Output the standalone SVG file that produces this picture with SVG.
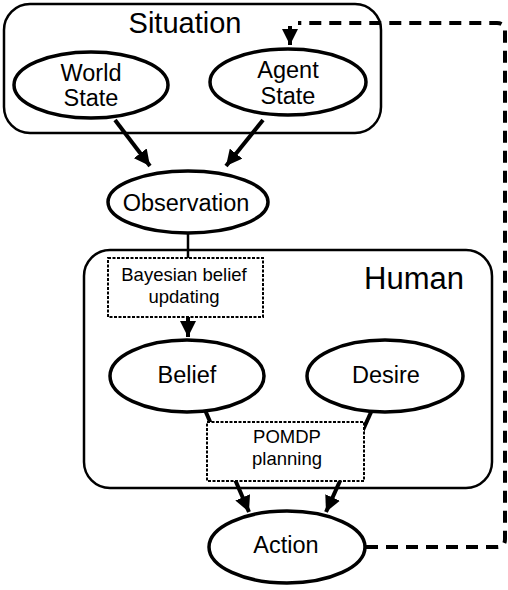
<svg xmlns="http://www.w3.org/2000/svg" width="508" height="590" viewBox="0 0 508 590">
<style>
.box{fill:none;stroke:#000;stroke-width:2.5}
.ell{fill:#fff;stroke:#000;stroke-width:3.5}
.dot{fill:#fff;stroke:#000;stroke-width:2;stroke-dasharray:3 1.5}
.t{font-family:"Liberation Sans",Arial,sans-serif;fill:#000;text-anchor:middle}
.n{font-size:23.5px}
.s{font-size:18.5px}
.edge{fill:none;stroke:#000;stroke-width:4}
.thin{fill:none;stroke:#000;stroke-width:2.5}
.dash{fill:none;stroke:#000;stroke-width:4;stroke-dasharray:12 8}
</style>
<defs>
<marker id="ah" viewBox="0 0 10 10" refX="10" refY="5" markerWidth="4" markerHeight="4" orient="auto" markerUnits="strokeWidth">
<path d="M0,0 L10,5 L0,10 z" fill="#000"/>
</marker>
</defs>
<g id="situation">
<rect class="box" x="4" y="4" width="377" height="129" rx="26"/>
<text class="t" x="185" y="33" font-size="29">Situation</text>
</g>
<g id="human">
<rect class="box" x="84" y="250" width="408" height="238" rx="26"/>
<text class="t" x="414" y="289" font-size="31">Human</text>
</g>
<g id="connectors">
<path class="edge" d="M115,120 L150,166" marker-end="url(#ah)"/>
<path class="edge" d="M263,120 L226,166" marker-end="url(#ah)"/>
<path class="thin" d="M188,233 V258"/>
<path class="edge" d="M188,317 V337" marker-end="url(#ah)"/>
<path class="edge" d="M205,410 L249,512" marker-end="url(#ah)"/>
<path class="edge" d="M372,410 L326,512" marker-end="url(#ah)"/>
<path class="dash" d="M366,547 H497 Q505,547 505,539 V31 Q505,23 497,23 H298"/>
<path class="edge" d="M290,26 V45" marker-end="url(#ah)"/>
</g>
<g id="world-state">
<ellipse class="ell" cx="91" cy="85" rx="77" ry="33"/>
<text class="t n" x="91" y="81">World</text>
<text class="t n" x="91" y="106">State</text>
</g>
<g id="agent-state">
<ellipse class="ell" cx="288" cy="82" rx="78" ry="33"/>
<text class="t n" x="288" y="78">Agent</text>
<text class="t n" x="288" y="104">State</text>
</g>
<g id="observation">
<ellipse class="ell" cx="188" cy="202" rx="80" ry="31"/>
<text class="t n" x="186" y="211">Observation</text>
</g>
<g id="bayesian">
<rect class="dot" x="108" y="258" width="155" height="59"/>
<text class="t s" x="184" y="281">Bayesian belief</text>
<text class="t s" x="184" y="303">updating</text>
</g>
<g id="belief">
<ellipse class="ell" cx="187" cy="376" rx="77" ry="36"/>
<text class="t n" x="187" y="383">Belief</text>
</g>
<g id="desire">
<ellipse class="ell" cx="385" cy="376" rx="78" ry="36"/>
<text class="t n" x="386" y="383">Desire</text>
</g>
<g id="pomdp">
<rect class="dot" x="207" y="422" width="157" height="59"/>
<text class="t s" x="287" y="443">POMDP</text>
<text class="t s" x="287" y="465">planning</text>
</g>
<g id="action">
<ellipse class="ell" cx="287" cy="547" rx="78" ry="36"/>
<text class="t n" x="286" y="553">Action</text>
</g>
</svg>
